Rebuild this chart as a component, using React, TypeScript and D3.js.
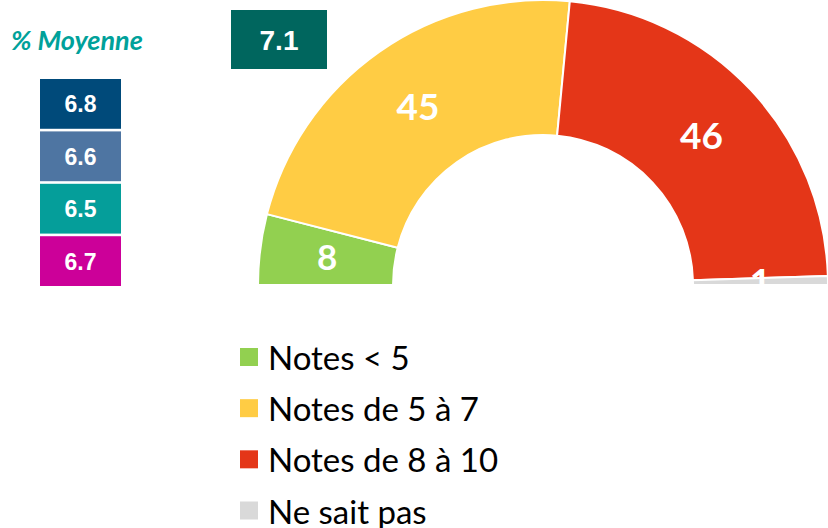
import React from "react";
import * as d3 from "d3";

const categories = ["Notes < 5", "Notes de 5 à 7", "Notes de 8 à 10", "Ne sait pas"];
const values = [8, 45, 46, 1];
const sliceColors = ["#92D050", "#FFCC44", "#E43618", "#D9D9D9"];

const overallMean = "7.1";
const overallColor = "#00665E";
const subMeans = ["6.8", "6.6", "6.5", "6.7"];
const subColors = ["#004A7A", "#4E75A2", "#059E9A", "#CC0099"];

const W = 828;
const H = 528;

export default function App() {
  const cx = 543;
  const cy = 285;
  const rOuter = 285;
  const rInner = 150;

  const pie = d3
    .pie<number>()
    .sort(null)
    .startAngle(-Math.PI / 2)
    .endAngle(Math.PI / 2)
    .value((d) => d);
  const arcs = pie(values);
  const arc = d3.arc<d3.PieArcDatum<number>>().innerRadius(rInner).outerRadius(rOuter);

  const boxY = d3.scaleBand<number>().domain(d3.range(subMeans.length)).range([79, 286]).paddingInner(0.05);
  const legendY = d3.scaleLinear().domain([0, 3]).range([357, 510.5]);

  return (
    <svg
      width={W}
      height={H}
      viewBox={`0 0 ${W} ${H}`}
      style={{ position: "absolute", left: 0, top: 0, background: "#fff" }}
    >
      <defs>
        <clipPath id="half">
          <rect x={0} y={0} width={W} height={285} />
        </clipPath>
      </defs>

      <text
        x={11}
        y={50}
        fontFamily="Lato, 'Open Sans', sans-serif"
        fontStyle="italic"
        fontWeight="bold"
        fontSize={27}
        fill="#00A19A"
      >
        % Moyenne
      </text>

      <rect x={231} y={10} width={96} height={59} fill={overallColor} />
      <text
        x={279}
        y={49.5}
        textAnchor="middle"
        fontFamily="'Liberation Sans', Arial, sans-serif"
        fontWeight="bold"
        fontSize={28}
        fill="#fff"
      >
        {overallMean}
      </text>

      {subMeans.map((m, i) => (
        <g key={m + i}>
          <rect x={40} y={boxY(i)} width={81} height={boxY.bandwidth()} fill={subColors[i]} />
          <text
            x={80.5}
            y={(boxY(i) as number) + boxY.bandwidth() / 2 + 8.5}
            textAnchor="middle"
            fontFamily="'Liberation Sans', Arial, sans-serif"
            fontWeight="bold"
            fontSize={23}
            fill="#fff"
          >
            {m}
          </text>
        </g>
      ))}

      <g clipPath="url(#half)">
        <g transform={`translate(${cx},${cy})`}>
          {arcs.map((a, i) => (
            <path key={i} d={arc(a) as string} fill={sliceColors[i]} stroke="#fff" strokeWidth={2} />
          ))}
          {arcs.map((a, i) => {
            const [x, y] = arc.centroid(a);
            return (
              <text
                key={"l" + i}
                x={x}
                y={y}
                dy="0.36em"
                textAnchor="middle"
                fontFamily="Lato, 'Open Sans', sans-serif"
                fontWeight="bold"
                fontSize={i === 0 ? 35 : 37}
                fill="#fff"
              >
                {values[i]}
              </text>
            );
          })}
        </g>
      </g>

      {categories.map((c, i) => (
        <g key={c}>
          <rect x={240} y={legendY(i) - 9} width={18} height={18} fill={sliceColors[i]} />
          <text
            x={268}
            y={legendY(i) + 13}
            fontFamily="Lato, 'Open Sans', sans-serif"
            fontSize={33}
            fill="#000"
          >
            {c}
          </text>
        </g>
      ))}
    </svg>
  );
}
